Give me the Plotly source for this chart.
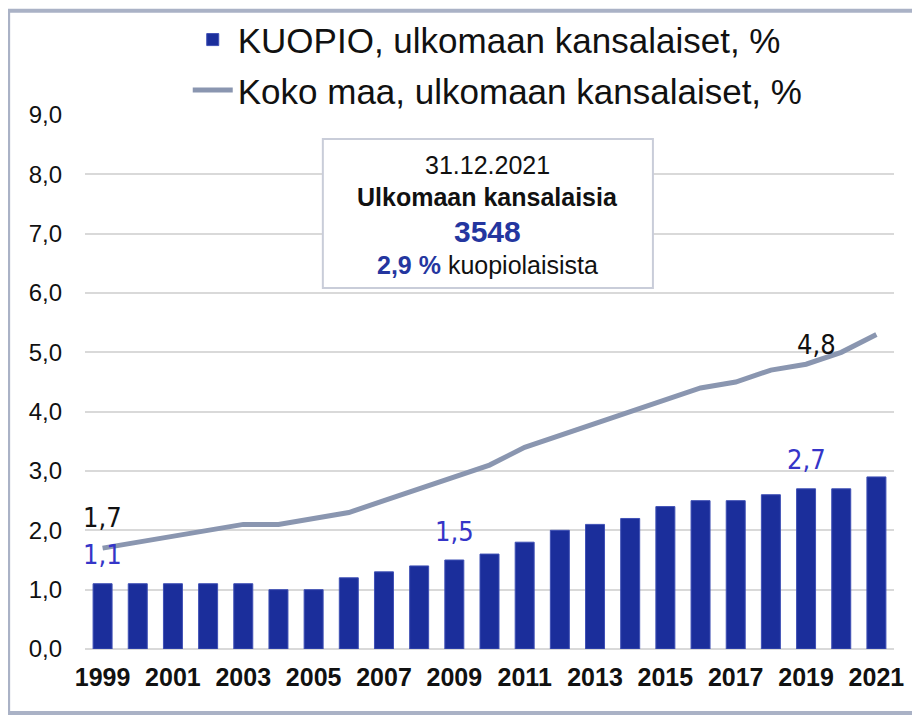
import plotly.graph_objects as go

# Ulkomaan kansalaisten osuus väestöstä, %
years = list(range(1999, 2022))
kuopio = [1.1, 1.1, 1.1, 1.1, 1.1, 1.0, 1.0, 1.2, 1.3, 1.4, 1.5, 1.6,
          1.8, 2.0, 2.1, 2.2, 2.4, 2.5, 2.5, 2.6, 2.7, 2.7, 2.9]
koko_maa = [1.7, 1.8, 1.9, 2.0, 2.1, 2.1, 2.2, 2.3, 2.5, 2.7, 2.9, 3.1,
            3.4, 3.6, 3.8, 4.0, 4.2, 4.4, 4.5, 4.7, 4.8, 5.0, 5.3]

# vuodet, joille arvo kirjoitetaan näkyviin
kuopio_label_years = [1999, 2009, 2019]
koko_maa_label_years = [1999, 2019]

y_ticks = [0, 1, 2, 3, 4, 5, 6, 7, 8, 9]
y_tick_text = ['0,0', '1,0', '2,0', '3,0', '4,0', '5,0', '6,0', '7,0', '8,0', '9,0']

box_date = '31.12.2021'
box_title = 'Ulkomaan kansalaisia'
box_count = '3548'
box_share = '2,9 %'

BAR_COLOR = '#1b2e9b'
LINE_COLOR = '#8a96b0'
LABEL_BLUE = '#3535c8'
BOX_BLUE = '#24369f'
FONT = 'Liberation Sans, Arial, sans-serif'
NARROW = 'Liberation Sans Narrow, DejaVu Sans Condensed, Liberation Sans, sans-serif'


def fmt(v):
    return f'{v:.1f}'.replace('.', ',')


fig = go.Figure()

fig.add_trace(go.Bar(
    x=years,
    y=kuopio,
    name='KUOPIO, ulkomaan kansalaiset, %',
    marker=dict(color=BAR_COLOR, line=dict(color='#3f50b5', width=1)),
    legendgroup='a',
))
fig.add_trace(go.Scatter(
    x=years,
    y=koko_maa,
    mode='lines',
    name='Koko maa, ulkomaan kansalaiset, %',
    line=dict(color=LINE_COLOR, width=5),
    legendgroup='b',
))

# arvojen tekstit
annotations = []
for yr in kuopio_label_years:
    v = kuopio[years.index(yr)]
    annotations.append(dict(x=yr, y=v, text=fmt(v), showarrow=False,
                            yshift=29, font=dict(family=NARROW, size=27,
                                                 color=LABEL_BLUE)))
for yr in koko_maa_label_years:
    v = koko_maa[years.index(yr)]
    xs = 10 if yr == 2019 else 0
    ys = 20 if yr == 2019 else 31
    annotations.append(dict(x=yr, y=v, text=fmt(v), showarrow=False,
                            xshift=xs, yshift=ys,
                            font=dict(family=NARROW, size=27, color='#111111')))

# tietolaatikko
box_lines = [
    (0.906, box_date, dict(family=FONT, size=25, color='#111111')),
    (0.846, f'<b>{box_title}</b>', dict(family=FONT, size=25, color='#111111')),
    (0.781, f'<b>{box_count}</b>', dict(family=FONT, size=30, color=BOX_BLUE)),
    (0.719, f'<b><span style="color:{BOX_BLUE}">{box_share}</span></b> kuopiolaisista',
     dict(family=FONT, size=25, color='#111111')),
]
for yy, txt, f in box_lines:
    annotations.append(dict(x=0.498, y=yy, xref='paper', yref='paper',
                            xanchor='center', yanchor='middle',
                            text=txt, showarrow=False, font=f))

fig.update_layout(
    width=920,
    height=716,
    # sivun oletusmarginaali (8 px) huomioitu
    margin=dict(l=77, r=34, t=107, b=75, autoexpand=False),
    paper_bgcolor='white',
    plot_bgcolor='white',
    bargap=0.46,
    font=dict(family=FONT, color='#111111'),
    showlegend=True,
    legend=dict(
        x=0.127, y=1.196, xanchor='left', yanchor='top',
        font=dict(family=FONT, size=35, color='#111111'),
        traceorder='grouped', tracegroupgap=2,
        itemwidth=40, bgcolor='rgba(0,0,0,0)',
    ),
    xaxis=dict(
        range=[1998.5, 2021.5],
        tickmode='linear', tick0=1999, dtick=2,
        showgrid=False, zeroline=False, showline=False,
        tickfont=dict(family=FONT, size=25, color='#111111', weight='bold'),
        ticklabelstandoff=11,
    ),
    yaxis=dict(
        range=[0, 9],
        tickvals=y_ticks, ticktext=y_tick_text,
        showgrid=True, gridcolor='#d9d9d9', gridwidth=1.5,
        zeroline=True, zerolinecolor='#d9d9d9', zerolinewidth=1.5,
        showline=False,
        tickfont=dict(family=FONT, size=24, color='#111111'),
        ticklabelstandoff=22,
    ),
    shapes=[
        # ulkokehys
        dict(type='rect', xref='paper', yref='paper',
             x0=-0.095, x1=1.2, y0=-0.12, y1=1.195,
             line=dict(color='#aab2c6', width=4), layer='below'),
        # tietolaatikko
        dict(type='rect', xref='paper', yref='paper',
             x0=0.294, x1=0.702, y0=0.676, y1=0.955,
             fillcolor='white', line=dict(color='#c9cdd9', width=2),
             layer='above'),
    ],
    annotations=annotations,
)

fig.write_html('out.html')
